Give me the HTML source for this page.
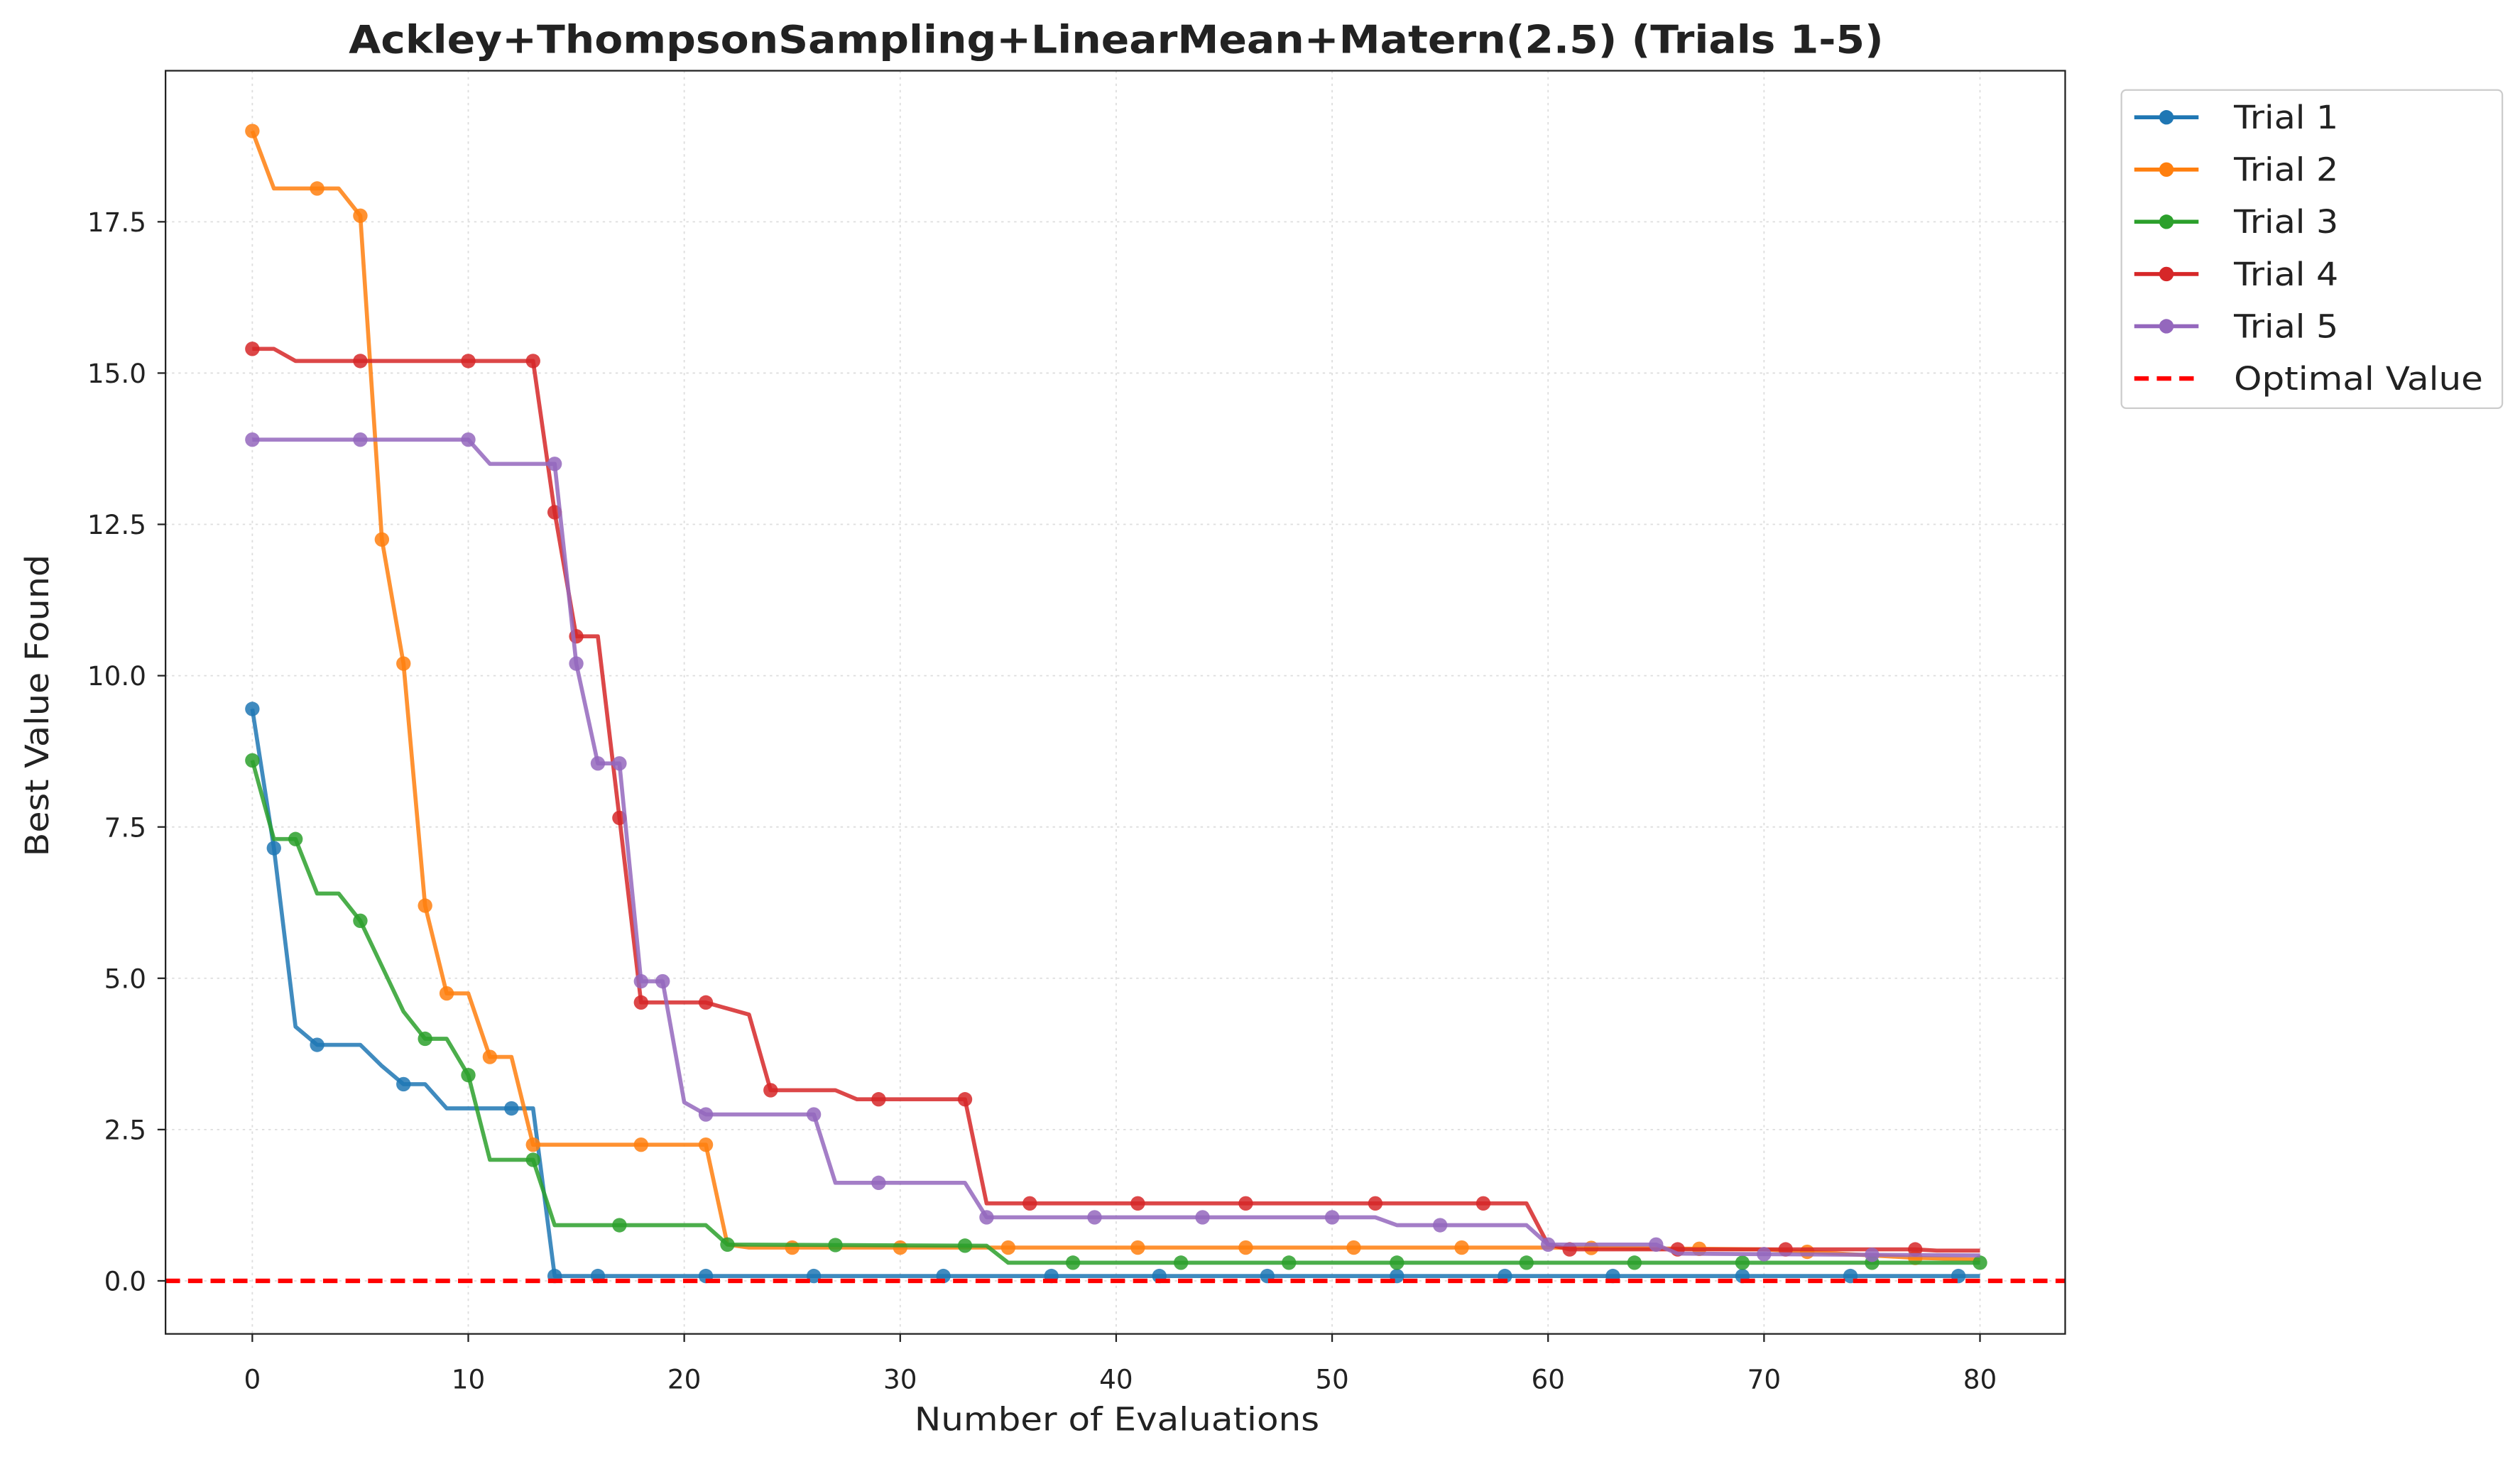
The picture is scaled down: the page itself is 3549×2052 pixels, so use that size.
<!DOCTYPE html>
<html><head><meta charset="utf-8"><style>
html,body{margin:0;padding:0;background:#fff}
svg{display:block;font-family:"DejaVu Sans","Liberation Sans",sans-serif}
</style></head><body>
<svg id="chart" width="3549" height="2052" viewBox="0 0 1568 906.6" xmlns="http://www.w3.org/2000/svg">
<rect x="0" y="0" width="1568" height="906.6" fill="#fff"/>
<g id="grid"></g>
<g id="series"></g>
<rect x="103" y="44" width="1182" height="786" fill="none" stroke="#222" stroke-width="1"/>
<g id="ticks"></g>
<text x="217" y="33" textLength="955" lengthAdjust="spacingAndGlyphs" font-size="24" font-weight="bold" fill="#222">Ackley+ThompsonSampling+LinearMean+Matern(2.5) (Trials 1-5)</text>
<text x="569" y="890" textLength="252" lengthAdjust="spacingAndGlyphs" font-size="20" fill="#222">Number of Evaluations</text>
<text transform="translate(30,533) rotate(-90)" textLength="188" lengthAdjust="spacingAndGlyphs" font-size="20" fill="#222">Best Value Found</text>
<g id="legend"></g>
</svg>
<script>
const xTicks=[0,10,20,30,40,50,60,70,80];
const yTicks=[0,2.5,5,7.5,10,12.5,15,17.5];
const trialNames=["Trial 1","Trial 2","Trial 3","Trial 4","Trial 5"];
const colors=["#1f77b4","#ff7f0e","#2ca02c","#d62728","#9467bd"];
const t1x=[0,1,2,3,5,6,7,8,9,13,14,80];
const t1y=[9.45,7.15,4.2,3.9,3.9,3.55,3.25,3.25,2.85,2.85,0.08,0.08];
const t1m=[0,1,3,7,12,14,16,21,26,32,37,42,47,53,58,63,69,74,79];
const t2x=[0,1,4,5,6,7,8,9,10,11,12,13,21,22,23,60,70,77,80];
const t2y=[19.0,18.05,18.05,17.6,12.25,10.2,6.2,4.75,4.75,3.7,3.7,2.25,2.25,0.6,0.55,0.55,0.52,0.38,0.35];
const t2m=[0,3,5,6,7,8,9,11,13,18,21,25,30,35,41,46,51,56,62,67,72,77];
const t3x=[0,1,2,3,4,5,6,7,8,9,10,11,13,14,21,22,34,35,80];
const t3y=[8.6,7.3,7.3,6.4,6.4,5.95,5.2,4.45,4.0,4.0,3.4,2.0,2.0,0.92,0.92,0.6,0.58,0.3,0.3];
const t3m=[0,2,5,8,10,13,17,22,27,33,38,43,48,53,59,64,69,75,80];
const t4x=[0,1,2,13,14,15,16,17,18,21,22,23,24,27,28,33,34,59,60,61,77,78,80];
const t4y=[15.4,15.4,15.2,15.2,12.7,10.65,10.65,7.65,4.6,4.6,4.5,4.4,3.15,3.15,3.0,3.0,1.28,1.28,0.6,0.52,0.52,0.5,0.5];
const t4m=[0,5,10,13,14,15,17,18,21,24,29,33,36,41,46,52,57,61,66,71,77];
const t5x=[0,10,11,14,15,16,17,18,19,20,21,26,27,33,34,52,53,59,60,65,66,80];
const t5y=[13.9,13.9,13.5,13.5,10.2,8.55,8.55,4.95,4.95,2.95,2.75,2.75,1.62,1.62,1.05,1.05,0.92,0.92,0.6,0.6,0.45,0.42];
const t5m=[0,5,10,14,15,16,17,18,19,21,26,29,34,39,44,50,55,60,65,70,75];
const optimalValue=0;

const NS="http://www.w3.org/2000/svg";
const X=v=>157+v*(1232-157)/80;
const Y=v=>797-v*(797-138)/17.5;
function mk(tag,attrs,parent){const e=document.createElementNS(NS,tag);for(const k in attrs)e.setAttribute(k,attrs[k]);parent.appendChild(e);return e;}
function interp(xs,ys,x){for(let i=0;i<xs.length-1;i++){if(x>=xs[i]&&x<=xs[i+1]){const t=xs[i+1]===xs[i]?0:(x-xs[i])/(xs[i+1]-xs[i]);return ys[i]+t*(ys[i+1]-ys[i]);}}return ys[ys.length-1];}
const grid=document.getElementById('grid'),ticks=document.getElementById('ticks'),series=document.getElementById('series'),legend=document.getElementById('legend');
xTicks.forEach(v=>{
 const g=mk('line',{x1:X(v),x2:X(v),y1:44,y2:830,stroke:'#ddd','stroke-width':0.8,'stroke-dasharray':'1.5,2.5'},grid);
 
 const t=mk('line',{x1:X(v),x2:X(v),y1:830,y2:835,stroke:'#222','stroke-width':1},ticks);
 
 const l=mk('text',{x:X(v),y:864,'text-anchor':'middle','font-size':16.5,fill:'#222'},ticks);l.textContent=v;
 
});
yTicks.forEach(v=>{
 const g=mk('line',{x1:103,x2:1285,y1:Y(v),y2:Y(v),stroke:'#ddd','stroke-width':0.8,'stroke-dasharray':'1.5,2.5'},grid);
 
 const t=mk('line',{x1:98,x2:103,y1:Y(v),y2:Y(v),stroke:'#222','stroke-width':1},ticks);
 
 const l=mk('text',{x:91,y:Y(v)+6,'text-anchor':'end','font-size':16.5,fill:'#222'},ticks);l.textContent=v.toFixed(1);
 
});
const trials=[[t1x,t1y,t1m],[t2x,t2y,t2m],[t3x,t3y,t3m],[t4x,t4y,t4m],[t5x,t5y,t5m]];
trials.forEach((tr,i)=>{
 const [xs,ys,ms]=tr;
 const g=mk('g',{},series);
 
 const p=mk('polyline',{points:xs.map((x,j)=>X(x)+','+Y(ys[j])).join(' '),fill:'none',stroke:colors[i],'stroke-width':2.5,'stroke-opacity':0.85,'stroke-linejoin':'round'},g);
 
 ms.forEach(m=>{
  const c=mk('circle',{cx:X(m),cy:Y(interp(xs,ys,m)),r:4.5,fill:colors[i],'fill-opacity':0.85},g);
  
 });
});
const opt=mk('line',{x1:103,x2:1285,y1:Y(optimalValue),y2:Y(optimalValue),stroke:'#ff0000','stroke-width':2.8,'stroke-dasharray':'9,5'},series);

const lb=mk('rect',{x:1320,y:56,width:237,height:198,rx:3,fill:'#fff',stroke:'#ccc','stroke-width':1},legend);

const labels=trialNames.concat(["Optimal Value"]);
const labelWidths=[65,65,65,65,65,155];
labels.forEach((name,i)=>{
 const y=73+i*32.5;
 const g=mk('g',{},legend);
 
 if(i<5){
  mk('line',{x1:1328,x2:1368,y1:y,y2:y,stroke:colors[i],'stroke-width':2.5},g);
  mk('circle',{cx:1348,cy:y,r:4.5,fill:colors[i]},g);
 } else {
  mk('line',{x1:1328,x2:1368,y1:y,y2:y,stroke:'#ff0000','stroke-width':2.8,'stroke-dasharray':'9,5'},g);
 }
 const t=mk('text',{x:1390,y:y+7,'font-size':20,fill:'#222',textLength:labelWidths[i],lengthAdjust:'spacingAndGlyphs'},g);t.textContent=name;
});
</script>
</body></html>
